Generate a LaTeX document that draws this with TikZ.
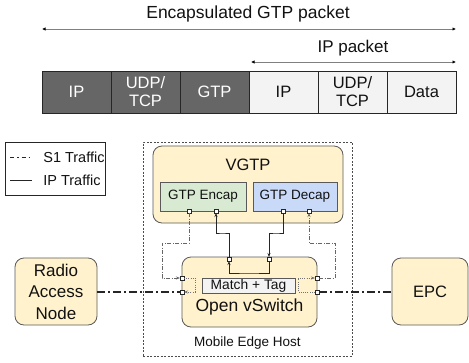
\documentclass[tikz,border=0pt]{standalone}
\usepackage{fontspec}
\setmainfont{Liberation Sans}
\usetikzlibrary{arrows.meta,calc}
\definecolor{boxy}{HTML}{FFF2CC}
\definecolor{encg}{HTML}{D9EAD3}
\definecolor{decb}{HTML}{C9DAF8}
\definecolor{darkpk}{HTML}{666666}
\definecolor{lightpk}{HTML}{F3F3F3}
\definecolor{edgec}{HTML}{595959}
\definecolor{txt}{HTML}{111111}
\begin{document}
\begin{tikzpicture}[x=1pt,y=-1pt,
  every node/.style={text=txt, outer sep=0pt},
  pkt/.style={draw=black!85, line width=0.6pt, minimum width=69pt, minimum height=42pt, inner sep=0pt, align=center, font=\fontsize{16.5}{18}\selectfont},
  pkdark/.style={pkt, fill=darkpk, text=white},
  pklight/.style={pkt, fill=lightpk},
  rbox/.style={draw=edgec, line width=0.8pt, fill=boxy, rounded corners=9pt, inner sep=0pt},
  sbox/.style={draw=edgec, line width=0.8pt, inner sep=0pt},
  port/.style={draw=black!85, fill=white, line width=0.5pt, minimum size=4pt, inner sep=0pt},
  tip/.style={-{Stealth[length=4pt,width=3pt]}},
  ipline/.style={draw=black!85, line width=1pt},
  sthin/.style={draw=black!60, line width=0.6pt, dash pattern=on 4pt off 1.5pt on 1pt off 1.5pt},
  sdot/.style={draw=black!55, line width=0.6pt, dash pattern=on 1pt off 1.2pt},
  sthick/.style={draw=black!85, line width=1.5pt, dash pattern=on 8pt off 3pt on 2pt off 3pt},
  dim/.style={draw=black!50, line width=0.8pt, {Latex[length=3.5pt,width=3.5pt,black]}-{Latex[length=3.5pt,width=3.5pt,black]}}
]
\useasboundingbox (0,0) rectangle (469,362);

% top labels and dimension arrows
\node[font=\fontsize{17.5}{20}\selectfont] (encT) at (248,14) {Encapsulated GTP packet};
\coordinate (encL) at (42,29); \coordinate (encR) at (456,29);
\draw[dim] (encL) -- (encR);
\node[font=\fontsize{17}{20}\selectfont] (ipT) at (353,48) {IP packet};
\coordinate (ipL) at (251,62); \coordinate (ipR) at (456,62);
\draw[dim] (ipL) -- (ipR);

% packet
\node[pkdark] (p1) at (76.5,92) {IP};
\node[pkdark] (p2) at (145.5,92) {UDP/\\TCP};
\node[pkdark] (p3) at (214.5,92) {GTP};
\node[pklight] (p4) at (283.5,92) {IP};
\node[pklight] (p5) at (352.5,92) {UDP/\\TCP};
\node[pklight] (p6) at (421.5,92) {Data};

% legend
\node[draw=black!85, line width=0.6pt, minimum width=100pt, minimum height=53pt, inner sep=0pt] (leg) at (55,168.5) {};
\coordinate (l1a) at (10,157); \coordinate (l1b) at (32,157);
\coordinate (l2a) at (10,180); \coordinate (l2b) at (32,180);
\draw[draw=black!85, line width=1pt, dash pattern=on 4pt off 3pt on 1.5pt off 3pt] (l1a) -- (l1b);
\draw[draw=black!85, line width=1pt] (l2a) -- (l2b);
\node[anchor=west, font=\fontsize{14.5}{17}\selectfont] (lt1) at (40,157) {S1 Traffic};
\node[anchor=west, font=\fontsize{14.5}{17}\selectfont] (lt2) at (40,180) {IP Traffic};

% mobile edge host
\node[draw=black!70, line width=0.6pt, dash pattern=on 2pt off 1.5pt, minimum width=209pt, minimum height=214pt, inner sep=0pt] (meh) at (247.5,249) {};
\node[font=\fontsize{13.5}{16}\selectfont] (mehT) at (247.5,343) {Mobile Edge Host};

% VGTP
\node[rbox, minimum width=190pt, minimum height=77pt] (vgtp) at (248,184.5) {};
\node[font=\fontsize{16.5}{19}\selectfont] (vgtpT) at (248,165) {VGTP};
\node[sbox, fill=encg, minimum width=86pt, minimum height=29pt, font=\fontsize{13.5}{15}\selectfont] (enc) at (203,196.5) {GTP Encap};
\node[sbox, fill=decb, minimum width=84pt, minimum height=29pt, font=\fontsize{13.5}{15}\selectfont] (dec) at (295,196.5) {GTP Decap};

% OVS
\node[rbox, minimum width=135pt, minimum height=70pt] (ovs) at (249.5,292) {};
\node[sbox, fill=lightpk, minimum width=93pt, minimum height=15pt, font=\fontsize{13.8}{15}\selectfont] (mt) at (248.5,285.5) {Match + Tag};
\node[font=\fontsize{17.5}{20}\selectfont] (ovsT) at (249.5,307) {Open vSwitch};

% RAN & EPC
\node[rbox, minimum width=82pt, minimum height=67pt, align=center, font=\fontsize{17}{21.5}\selectfont] (ran) at (56,291.5) {Radio\\Access\\Node};
\node[rbox, minimum width=76pt, minimum height=67pt, font=\fontsize{16.5}{19}\selectfont] (epc) at (430,291.5) {EPC};

% ports
\node[port] (pe1) at (189,211) {};
\node[port] (pe2) at (216,211) {};
\node[port] (pd1) at (283,211) {};
\node[port] (pd2) at (309,211) {};
\node[port] (ot1) at (229,259) {};
\node[port] (ot2) at (269,259) {};
\node[port] (ol1) at (182,278) {};
\node[port] (ol2) at (182,292) {};
\node[port] (or1) at (317,278) {};
\node[port] (or2) at (317,292) {};

% IP traffic
\draw[ipline,tip] (pd1.south) |- (276,233) -| (ot2.north);
\draw[ipline,tip] (ot2.south) |- (249,273) -| (ot1.south);
\draw[ipline,tip] (ot1.north) |- (222,233) -| (pe2.south);

% S1 traffic
\draw[sthin,tip] (pe1.south) |- (162,243) |- (ol1.west);
\draw[sthin,tip] (or1.east) -| (335,243) -| (pd2.south);
\draw[sdot,tip] (ol1.east) -| (195,285) |- (ol2.east);
\draw[sdot,tip] (or2.west) -| (298,285) |- (or1.west);
\draw[sthick] (ran.east |- ol2.west) -- (ol2.west);
\draw[sthick] (or2.east) -- (epc.west |- or2.east);
\end{tikzpicture}
\end{document}
